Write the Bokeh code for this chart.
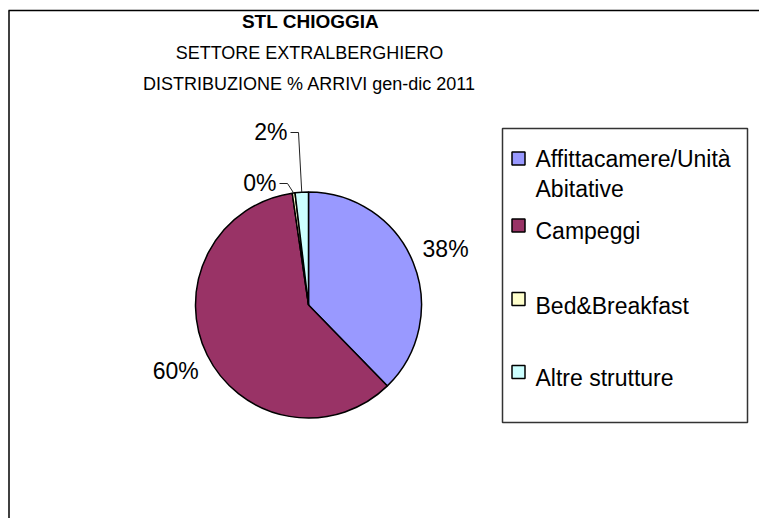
import math
from bokeh.plotting import figure
from bokeh.models import Range1d
from bokeh.core.properties import value
from bokeh.embed import file_html
from bokeh.resources import INLINE

# ---- data ----
categories = ["Affittacamere/Unità Abitative", "Campeggi", "Bed&Breakfast", "Altre strutture"]
legend_lines = [["Affittacamere/Unità", "Abitative"], ["Campeggi"], ["Bed&Breakfast"], ["Altre strutture"]]
shares = [37.7, 60.0, 0.4, 1.9]
colors = ["#9999FF", "#993366", "#FFFFCC", "#CCFFFF"]
title_lines = ["STL CHIOGGIA", "SETTORE EXTRALBERGHIERO", "DISTRIBUZIONE % ARRIVI gen-dic 2011"]

FONT = value("Liberation Sans")
W, H = 759, 518

def X(px):
    return px

def Y(py):
    return H - py

p = figure(width=W, height=H, output_backend="svg", toolbar_location=None,
           x_range=Range1d(0, W), y_range=Range1d(0, H), min_border=0)
p.axis.visible = False
p.grid.visible = False
p.outline_line_color = None
p.background_fill_color = "white"
p.border_fill_color = "white"

# chart border (top and left; right/bottom lie outside the view)
p.line([X(8), X(W + 20)], [Y(10), Y(10)], line_color="black", line_width=1.5)
p.line([X(8.5), X(8.5)], [Y(10), Y(H + 20)], line_color="black", line_width=1.5)

# titles
p.text(x=[X(310)], y=[Y(21)], text=[title_lines[0]], text_font=FONT, text_font_size="19px",
       text_font_style="bold", text_align="center", text_baseline="middle", text_color="black")
p.text(x=[X(309), X(309)], y=[Y(52), Y(83)], text=title_lines[1:], text_font=FONT,
       text_font_size="18px", text_align="center", text_baseline="middle", text_color="black")

# pie
cx, cy, r = X(308), Y(304.5), 113
total = sum(shares)
cum = [0.0]
for s in shares:
    cum.append(cum[-1] + s / total)
starts = [math.pi / 2 - 2 * math.pi * cum[i + 1] for i in range(len(shares))]
ends = [math.pi / 2 - 2 * math.pi * cum[i] for i in range(len(shares))]
p.wedge(x=[cx] * len(shares), y=[cy] * len(shares), radius=r, start_angle=starts, end_angle=ends,
        fill_color=colors, line_color="black", line_width=1.5)

mids = [(cum[i] + cum[i + 1]) / 2 * 2 * math.pi for i in range(len(shares))]  # clockwise from top
labels = [f"{round(s)}%" for s in shares]

# large slices: labels outside along the mid angle
for i in (0, 1):
    lx = cx + 148 * math.sin(mids[i])
    ly = cy + 148 * math.cos(mids[i])
    p.text(x=[lx], y=[ly], text=[labels[i]], text_font=FONT, text_font_size="23px",
           text_align="center", text_baseline="middle", text_color="black")

# small slices: labels with leader lines
small = {2: (X(276), Y(182)), 3: (X(287), Y(131))}
for i, (tx, ty) in small.items():
    p.text(x=[tx], y=[ty], text=[labels[i]], text_font=FONT, text_font_size="23px",
           text_align="right", text_baseline="middle", text_color="black")
    ex = cx + r * math.sin(mids[i])
    ey = cy + r * math.cos(mids[i])
    p.line([tx + 3, tx + 11, ex], [ty - 1, ty - 1, ey], line_color="#222222", line_width=1)

# legend
p.rect(x=[X(624.5)], y=[Y(275)], width=245, height=294, fill_color="white",
       line_color="#333333", line_width=1.5)
sq_y = [158, 225, 298.5, 371.5]
base_y = [158, 230, 305, 377]
for i, lines in enumerate(legend_lines):
    p.rect(x=[X(518)], y=[Y(sq_y[i])], width=13, height=13, fill_color=colors[i],
           line_color="black", line_width=1.5)
    for k, t in enumerate(lines):
        p.text(x=[X(535)], y=[Y(base_y[i] + 30 * k)], text=[t], text_font=FONT,
               text_font_size="23px", text_align="left", text_baseline="alphabetic",
               text_color="black")

open("out.html", "w").write(file_html(p, INLINE))
